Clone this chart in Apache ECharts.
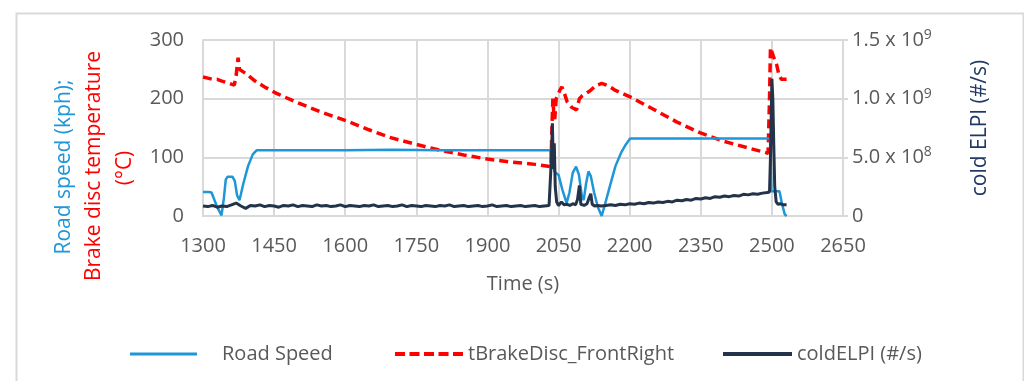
<!DOCTYPE html>
<html>
<head>
<meta charset="utf-8">
<script src="https://cdn.jsdelivr.net/npm/echarts@6/dist/echarts.min.js"></script>
<style>
html,body{margin:0;padding:0;background:#fff;}
#chart{width:1024px;height:381px;}
</style>
</head>
<body>
<div id="chart"></div>
<script>
// ---- Data ----
var seriesNames = ['Road Speed', 'tBrakeDisc_FrontRight', 'coldELPI (#/s)'];
var xTicks = [1300, 1450, 1600, 1750, 1900, 2050, 2200, 2350, 2500, 2650];
var leftTicks = [0, 100, 200, 300];
var elpiTickValues = [0, 5, 10, 15];            // in 1e8 #/s
var elpiTickMantissa = ['0', '5.0 x 10', '1.0 x 10', '1.5 x 10'];
var elpiTickExponent = ['', '8', '9', '9'];

// Road speed (kph)
var speedTime = [1300,1312,1318,1330,1339,1344,1348,1352,1362,1367,1372,1377,1385,1395,1405,1413,1500,1600,1700,1800,1900,2000,2032,2036,2042,2050,2058,2067,2073,2080,2087,2093,2099,2103,2108,2113,2118,2125,2133,2141,2148,2158,2170,2182,2192,2201,2300,2400,2496,2499,2510,2516,2521,2527,2531];
var speedValues = [41,41,40,15,1,30,62,67,67,60,35,27,55,85,105,112,112,112,113,112,112,112,112,92,75,70,45,22,40,74,84,70,35,27,55,76,68,40,15,0,20,50,85,108,122,132,132,132,132,42,42,42,22,3,0];

// Brake disc temperature (°C)
var tempTime = [1300,1310,1320,1330,1340,1355,1366,1370,1374,1377,1380,1390,1410,1430,1455,1500,1550,1603,1650,1694,1750,1800,1850,1900,1950,2000,2034,2036,2038,2040,2042,2045,2049,2053,2057,2062,2068,2078,2088,2094,2100,2110,2116,2128,2141,2155,2170,2201,2250,2300,2348,2400,2450,2492,2495,2497,2500,2505,2510,2515,2520,2531];
var tempValues = [237,235,233,233,230,226,223,240,270,250,252,243,230,220,209,193,177,162,147,134,122,112,104,97,92,88,84,150,200,175,165,200,207,215,220,210,195,185,181,200,205,210,213,222,226,222,214,203,182,160,142,127,116,107,200,287,285,268,258,240,233,233];

// cold ELPI (in 1e8 #/s)
var elpiTime = [1300,1310,1320,1330,1340,1350,1360,1370,1380,1390,1400,1410,1420,1430,1440,1450,1460,1470,1480,1490,1500,1510,1520,1530,1540,1550,1560,1570,1580,1590,1600,1610,1620,1630,1640,1650,1660,1670,1680,1690,1700,1710,1720,1730,1740,1750,1760,1770,1780,1790,1800,1810,1820,1830,1840,1850,1860,1870,1880,1890,1900,1910,1920,1930,1940,1950,1960,1970,1980,1990,2000,2010,2020,2030,2033,2035,2037,2039,2041,2043,2046,2050,2056,2062,2068,2074,2080,2086,2090,2094,2097,2104,2110,2114,2118,2121,2126,2132,2140,2150,2160,2170,2180,2190,2200,2210,2220,2230,2240,2250,2260,2270,2280,2290,2300,2310,2320,2330,2340,2350,2360,2370,2380,2390,2400,2410,2420,2430,2440,2450,2460,2470,2480,2490,2495,2497,2500,2502,2504,2506,2509,2513,2518,2524,2531];
var elpiValues = [0.85,0.80,0.90,0.75,0.85,0.80,0.95,1.10,0.85,0.65,0.90,0.85,0.95,0.80,0.90,0.85,0.75,0.90,0.85,0.95,0.80,0.90,0.85,0.80,0.95,0.85,0.90,0.80,0.85,0.95,0.80,0.90,0.85,0.80,0.90,0.85,0.95,0.80,0.85,0.90,0.80,0.85,0.95,0.80,0.90,0.85,0.80,0.90,0.85,0.80,0.90,0.85,0.95,0.80,0.85,0.90,0.80,0.85,0.90,0.80,0.85,0.95,0.80,0.85,0.90,0.80,0.85,0.90,0.80,0.85,0.90,0.80,0.85,0.90,1.00,5.00,7.90,4.00,6.20,2.50,1.20,0.90,1.20,0.95,1.00,0.90,1.05,0.95,1.40,2.60,1.00,0.90,1.05,1.50,1.90,1.00,0.85,0.90,0.85,0.90,0.95,0.90,1.00,0.95,1.05,1.00,1.10,1.05,1.15,1.10,1.20,1.15,1.25,1.20,1.35,1.30,1.40,1.35,1.50,1.45,1.55,1.50,1.65,1.60,1.70,1.65,1.75,1.70,1.85,1.80,1.90,1.85,1.95,2.00,2.05,5.00,11.70,10.00,6.00,2.50,1.20,1.00,1.05,0.95,0.95];

function pairs(xs, ys) { return xs.map(function (x, i) { return [x, ys[i]]; }); }

var FONT = 'Open Sans';
var GRAY = '#595959';
var GRID = '#D9D9D9';
var BLUE = '#1E96D8';
var RED = '#FF0000';
var NAVY = '#233349';

var chart = echarts.init(document.getElementById('chart'), null, {renderer: 'canvas'});
var legendText = {color: GRAY, fontFamily: FONT, fontSize: 20};
var dashIcon = 'path://M0,0h10v4h-10zM14.5,0h10v4h-10zM29,0h10v4h-10zM43.5,0h10v4h-10zM58,0h10v4h-10z';
chart.setOption({
  animation: false,
  backgroundColor: '#fff',
  textStyle: {fontFamily: FONT},
  grid: {left: 203, right: 181, top: 40, bottom: 165, containLabel: false},
  xAxis: {
    type: 'value', min: xTicks[0], max: xTicks[xTicks.length - 1], interval: 150,
    name: 'Time (s)', nameLocation: 'middle', nameGap: 58,
    nameTextStyle: {color: GRAY, fontSize: 20, fontFamily: FONT},
    axisLine: {show: true, lineStyle: {color: GRID, width: 2}},
    axisTick: {show: false},
    axisLabel: {color: GRAY, fontSize: 20, margin: 20, fontFamily: FONT,
      formatter: function (v) { return String(v); }},
    splitLine: {show: true, lineStyle: {color: GRID, width: 2}}
  },
  yAxis: [{
    type: 'value', min: leftTicks[0], max: leftTicks[leftTicks.length - 1], interval: 100,
    position: 'left',
    axisLine: {show: true, lineStyle: {color: GRID, width: 2}},
    axisTick: {show: false},
    axisLabel: {color: GRAY, fontSize: 20, margin: 19, fontFamily: FONT},
    splitLine: {show: true, lineStyle: {color: GRID, width: 2}}
  }, {
    type: 'value', min: elpiTickValues[0], max: elpiTickValues[elpiTickValues.length - 1], interval: 5,
    position: 'right',
    axisLine: {show: true, lineStyle: {color: GRID, width: 2}},
    axisTick: {show: true, inside: false, length: 5, lineStyle: {color: GRID, width: 2}},
    axisLabel: {
      margin: 9, color: GRAY, fontFamily: FONT,
      formatter: function (v) {
        var i = elpiTickValues.indexOf(v);
        if (i < 0) return '';
        return elpiTickExponent[i] ? '{m|' + elpiTickMantissa[i] + '}{s|' + elpiTickExponent[i] + '}' : '{m|' + elpiTickMantissa[i] + '}';
      },
      rich: {
        m: {fontSize: 20, color: GRAY, fontFamily: FONT},
        s: {fontSize: 14, color: GRAY, fontFamily: FONT, verticalAlign: 'top', padding: [0, 0, 10, 0]}
      }
    },
    splitLine: {show: false}
  }],
  legend: [
    {top: 339, left: 125, icon: 'rect', itemWidth: 67, itemHeight: 3, data: [seriesNames[0]],
      textStyle: Object.assign({}, legendText, {padding: [0, 0, 0, 20]})},
    {top: 339, left: 390, icon: dashIcon, itemWidth: 68, itemHeight: 4, data: [seriesNames[1]],
      textStyle: legendText},
    {top: 339, left: 718, icon: 'rect', itemWidth: 69, itemHeight: 4, data: [seriesNames[2]],
      textStyle: legendText}
  ],
  graphic: [
    {type: 'rect', left: 14, top: 11, shape: {width: 1007, height: 400}, style: {fill: 'none', stroke: GRID, lineWidth: 2}, silent: true, z: -1},
    {type: 'text', x: 64, y: 167, rotation: Math.PI / 2, style: {text: 'Road speed (kph);', fill: BLUE, font: '21px "Open Sans"', textAlign: 'center', textVerticalAlign: 'middle'}},
    {type: 'text', x: 94, y: 166, rotation: Math.PI / 2, style: {text: 'Brake disc temperature', fill: RED, font: '21px "Open Sans"', textAlign: 'center', textVerticalAlign: 'middle'}},
    {type: 'text', x: 125, y: 168, rotation: Math.PI / 2, style: {text: '(°C)', fill: RED, font: '21px "Open Sans"', textAlign: 'center', textVerticalAlign: 'middle'}},
    {type: 'text', x: 980, y: 128, rotation: Math.PI / 2, style: {text: 'cold ELPI (#/s)', fill: '#203864', font: '21px "Open Sans"', textAlign: 'center', textVerticalAlign: 'middle'}}
  ],
  series: [{
    name: seriesNames[0], type: 'line', yAxisIndex: 0, showSymbol: false, symbol: 'none',
    data: pairs(speedTime, speedValues),
    lineStyle: {color: BLUE, width: 2.5}, itemStyle: {color: BLUE}, z: 3
  }, {
    name: seriesNames[1], type: 'line', yAxisIndex: 0, showSymbol: false, symbol: 'none',
    data: pairs(tempTime, tempValues),
    lineStyle: {color: RED, width: 3.5, type: [9, 5]}, itemStyle: {color: RED}, z: 2
  }, {
    name: seriesNames[2], type: 'line', yAxisIndex: 1, showSymbol: false, symbol: 'none',
    data: pairs(elpiTime, elpiValues),
    lineStyle: {color: NAVY, width: 3}, itemStyle: {color: NAVY}, z: 4
  }]
});
</script>
</body>
</html>
